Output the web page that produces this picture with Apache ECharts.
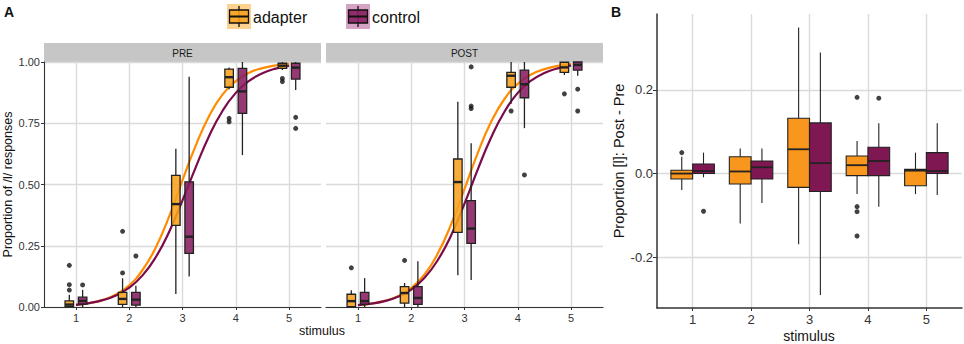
<!DOCTYPE html>
<html>
<head>
<meta charset="utf-8">
<script src="https://cdn.jsdelivr.net/npm/echarts@6/dist/echarts.min.js"></script>
<style>
  html, body { margin: 0; padding: 0; background: #fff; }
  #chart { width: 964px; height: 344px; }
</style>
</head>
<body>
<div id="chart"></div>
<script>
const stimuli = [1, 2, 3, 4, 5];
const yTicksA = [0, 0.25, 0.5, 0.75, 1];
const yTicksB = [-0.2, 0, 0.2];

// boxes: [low whisker, q1, median, q3, high whisker] for stimulus 1..5
const preAdapterBox = [
  [0, 0.002, 0.01, 0.025, 0.05],
  [0, 0.011, 0.033, 0.06, 0.117],
  [0.053, 0.333, 0.42, 0.537, 0.646],
  [0.889, 0.897, 0.938, 0.971, 0.978],
  [0.967, 0.974, 0.985, 0.995, 1.0]
];
const preControlBox = [
  [0, 0.012, 0.025, 0.04, 0.07],
  [0, 0.008, 0.03, 0.06, 0.087],
  [0.124, 0.219, 0.287, 0.511, 0.94],
  [0.62, 0.79, 0.88, 0.974, 1.0],
  [0.886, 0.93, 0.977, 0.995, 1.0]
];
const postAdapterBox = [
  [0, 0.001, 0.024, 0.052, 0.068],
  [0, 0.016, 0.057, 0.083, 0.098],
  [0.13, 0.305, 0.51, 0.604, 0.838],
  [0.83, 0.897, 0.944, 0.958, 1.0],
  [0.947, 0.958, 0.978, 0.999, 1.0]
];
const postControlBox = [
  [0, 0.011, 0.024, 0.06, 0.118],
  [0, 0.011, 0.037, 0.083, 0.187],
  [0.11, 0.26, 0.32, 0.434, 0.668],
  [0.73, 0.854, 0.909, 0.967, 1.0],
  [0.944, 0.967, 0.988, 1.0, 1.0]
];
const diffAdapterBox = [
  [-0.039, -0.013, 0.0, 0.008, 0.04],
  [-0.119, -0.025, 0.005, 0.04, 0.06],
  [-0.169, -0.033, 0.058, 0.132, 0.349],
  [-0.049, -0.005, 0.02, 0.042, 0.078],
  [-0.049, -0.029, 0.007, 0.01, 0.05]
];
const diffControlBox = [
  [-0.009, 0.0, 0.006, 0.023, 0.05],
  [-0.07, -0.013, 0.015, 0.03, 0.06],
  [-0.29, -0.043, 0.025, 0.121, 0.289],
  [-0.079, -0.005, 0.03, 0.063, 0.12],
  [-0.051, 0.0, 0.006, 0.05, 0.12]
];

// outliers: [stimulus, value]
const preAdapterOut = [[1, 0.17], [1, 0.091], [1, 0.069], [2, 0.309], [2, 0.139], [4, 0.77], [4, 0.756], [5, 0.933], [5, 0.92]];
const preControlOut = [[1, 0.09], [2, 0.208], [5, 0.774], [5, 0.729]];
const postAdapterOut = [[1, 0.16], [2, 0.19], [4, 0.8], [5, 0.87]];
const postControlOut = [[3, 0.98], [3, 0.82], [3, 0.81], [4, 0.539], [5, 0.889], [5, 0.8]];
const diffAdapterOut = [[1, 0.05], [4, 0.182], [4, -0.079], [4, -0.091], [4, -0.149]];
const diffControlOut = [[1, -0.09], [4, 0.18]];

// fitted curves
const curveX = [1, 1.25, 1.5, 1.75, 2, 2.25, 2.5, 2.75, 3, 3.25, 3.5, 3.75, 4, 4.25, 4.5, 4.75, 5];
const preAdapterCurve = [0.009, 0.016, 0.028, 0.051, 0.089, 0.151, 0.244, 0.37, 0.518, 0.66, 0.78, 0.867, 0.922, 0.956, 0.975, 0.986, 0.992];
const preControlCurve = [0.009, 0.016, 0.028, 0.047, 0.079, 0.129, 0.204, 0.307, 0.435, 0.571, 0.698, 0.8, 0.874, 0.923, 0.954, 0.973, 0.984];
const postAdapterCurve = [0.008, 0.014, 0.025, 0.044, 0.078, 0.133, 0.219, 0.338, 0.482, 0.629, 0.756, 0.849, 0.911, 0.949, 0.971, 0.984, 0.991];
const postControlCurve = [0.008, 0.014, 0.024, 0.042, 0.071, 0.119, 0.192, 0.293, 0.422, 0.562, 0.692, 0.797, 0.874, 0.924, 0.955, 0.974, 0.985];

const FONT = '"Liberation Sans", Arial, sans-serif';
const ORANGE = '#F8961D';
const PURPLE = '#7E1752';
const ORANGE_A = 'rgba(248,160,28,0.88)';
const PURPLE_A = 'rgba(135,28,96,0.88)';
const CURVE_O = '#FF8C00';
const CURVE_P = '#7A0C4A';

function boxData(stats, offset) {
  return stats.map((s, i) => [stimuli[i] + offset].concat(s));
}
function outData(points, offset) {
  return points.map((p) => [p[0] + offset, p[1]]);
}
function curveData(ys) {
  return curveX.map((x, i) => [x, ys[i]]);
}

function boxRender(widthUnits, fill, lineW, medW) {
  return function (params, api) {
    const x = api.value(0);
    const w = api.size([widthUnits, 0])[0];
    const pt = (d) => api.coord([x, api.value(d)]);
    const lo = pt(1), q1 = pt(2), md = pt(3), q3 = pt(4), hi = pt(5);
    const cx = lo[0];
    const stroke = '#222';
    return {
      type: 'group',
      children: [
        { type: 'line', shape: { x1: cx, y1: lo[1], x2: cx, y2: q1[1] }, style: { stroke: stroke, lineWidth: lineW } },
        { type: 'line', shape: { x1: cx, y1: q3[1], x2: cx, y2: hi[1] }, style: { stroke: stroke, lineWidth: lineW } },
        { type: 'rect', shape: { x: cx - w / 2, y: q3[1], width: w, height: q1[1] - q3[1] }, style: { fill: fill, stroke: stroke, lineWidth: lineW } },
        { type: 'line', shape: { x1: cx - w / 2, y1: md[1], x2: cx + w / 2, y2: md[1] }, style: { stroke: stroke, lineWidth: medW } }
      ]
    };
  };
}

function boxSeries(stats, offset, axis, widthUnits, fill, lineW, medW) {
  return {
    type: 'custom',
    xAxisIndex: axis, yAxisIndex: axis,
    renderItem: boxRender(widthUnits, fill, lineW, medW),
    encode: { x: 0, y: [1, 2, 3, 4, 5] },
    data: boxData(stats, offset),
    z: 3,
    silent: true
  };
}
function outSeries(points, offset, axis, size) {
  return {
    type: 'scatter', xAxisIndex: axis, yAxisIndex: axis,
    data: outData(points, offset),
    symbolSize: size,
    itemStyle: { color: '#111' },
    z: 4, silent: true
  };
}
function curveSeries(ys, axis, color) {
  return {
    type: 'line', xAxisIndex: axis, yAxisIndex: axis,
    data: curveData(ys), smooth: true, showSymbol: false,
    lineStyle: { color: color, width: 2.2 },
    z: 2, silent: true
  };
}

const gridLine = { show: true, lineStyle: { color: '#dadada', width: 1.4 } };

function xAxisA(idx) {
  return {
    type: 'value', gridIndex: idx, min: 0.4, max: 5.6,
    axisLine: { show: true, onZero: false, lineStyle: { color: '#333', width: 1.1 } },
    axisTick: { show: true, length: 3, customValues: stimuli, lineStyle: { color: '#333' } },
    axisLabel: { customValues: stimuli, fontSize: 11, color: '#333', margin: 5, fontFamily: FONT, formatter: (v) => String(v) },
    splitLine: gridLine
  };
}

const option = {
  animation: false,
  textStyle: { fontFamily: FONT },
  grid: [
    { left: 44, top: 62, width: 277, height: 245 },
    { left: 326, top: 62, width: 277, height: 245 },
    { left: 657, top: 14, width: 305, height: 294 }
  ],
  xAxis: [
    xAxisA(0),
    xAxisA(1),
    {
      type: 'value', gridIndex: 2, min: 0.39, max: 5.61,
      axisLine: { show: true, onZero: false, lineStyle: { color: '#333', width: 1.5 } },
      axisTick: { show: true, length: 3, customValues: stimuli, lineStyle: { color: '#333' } },
      axisLabel: { customValues: stimuli, fontSize: 13, color: '#333', margin: 5, fontFamily: FONT, formatter: (v) => String(v) },
      splitLine: gridLine
    }
  ],
  yAxis: [
    {
      type: 'value', gridIndex: 0, min: 0, max: 1, interval: 0.25,
      name: 'Proportion of /l/ responses', nameLocation: 'middle', nameGap: 30,
      nameTextStyle: { fontSize: 12.5, color: '#111', fontFamily: FONT },
      axisLine: { show: true, onZero: false, lineStyle: { color: '#333', width: 1.1 } },
      axisTick: { show: true, length: 3, lineStyle: { color: '#333' } },
      axisLabel: { fontSize: 11, color: '#333', margin: 4, fontFamily: FONT, formatter: (v) => v.toFixed(2) },
      splitLine: gridLine
    },
    {
      type: 'value', gridIndex: 1, min: 0, max: 1, interval: 0.25,
      axisLine: { show: false }, axisTick: { show: false }, axisLabel: { show: false },
      splitLine: gridLine
    },
    {
      type: 'value', gridIndex: 2, min: -0.321, max: 0.381,
      name: 'Proportion [l]: Post - Pre', nameLocation: 'middle', nameGap: 25,
      nameTextStyle: { fontSize: 14.5, color: '#111', fontFamily: FONT },
      axisLine: { show: true, onZero: false, lineStyle: { color: '#333', width: 1.5 } },
      axisTick: { show: true, length: 4, customValues: yTicksB, lineStyle: { color: '#333' } },
      axisLabel: { customValues: yTicksB, fontSize: 13, color: '#333', margin: 4, fontFamily: FONT, formatter: (v) => v.toFixed(1) },
      splitLine: gridLine
    }
  ],
  series: [
    curveSeries(preAdapterCurve, 0, CURVE_O),
    curveSeries(preControlCurve, 0, CURVE_P),
    curveSeries(postAdapterCurve, 1, CURVE_O),
    curveSeries(postControlCurve, 1, CURVE_P),
    boxSeries(preAdapterBox, -0.125, 0, 0.16, ORANGE_A, 1.3, 2.4),
    boxSeries(preControlBox, 0.125, 0, 0.16, PURPLE_A, 1.3, 2.4),
    boxSeries(postAdapterBox, -0.125, 1, 0.16, ORANGE_A, 1.3, 2.4),
    boxSeries(postControlBox, 0.125, 1, 0.16, PURPLE_A, 1.3, 2.4),
    boxSeries(diffAdapterBox, -0.186, 2, 0.372, ORANGE, 1.1, 1.8),
    boxSeries(diffControlBox, 0.186, 2, 0.372, PURPLE, 1.1, 1.8),
    outSeries(preAdapterOut, -0.125, 0, 5),
    outSeries(preControlOut, 0.125, 0, 5),
    outSeries(postAdapterOut, -0.125, 1, 5),
    outSeries(postControlOut, 0.125, 1, 5),
    outSeries(diffAdapterOut, -0.186, 2, 5),
    outSeries(diffControlOut, 0.186, 2, 5)
  ],
  graphic: [
    { type: 'rect', left: 44, top: 43, shape: { width: 277, height: 19 }, style: { fill: '#c6c6c6' }, silent: true },
    { type: 'rect', left: 326, top: 43, shape: { width: 277, height: 19 }, style: { fill: '#c6c6c6' }, silent: true },
    { type: 'text', x: 182.5, y: 53, style: { text: 'PRE', font: '10px ' + FONT, fill: '#1a1a1a', textAlign: 'center', textVerticalAlign: 'middle' } },
    { type: 'text', x: 464.5, y: 53, style: { text: 'POST', font: '10px ' + FONT, fill: '#1a1a1a', textAlign: 'center', textVerticalAlign: 'middle' } },
    { type: 'text', x: 4, y: 5, style: { text: 'A', font: 'bold 14px ' + FONT, fill: '#111' } },
    { type: 'text', x: 611, y: 5, style: { text: 'B', font: 'bold 14px ' + FONT, fill: '#111' } },
    { type: 'text', x: 322, y: 331, style: { text: 'stimulus', font: '12.5px ' + FONT, fill: '#111', textAlign: 'center', textVerticalAlign: 'middle' } },
    { type: 'text', x: 809, y: 336, style: { text: 'stimulus', font: '14px ' + FONT, fill: '#111', textAlign: 'center', textVerticalAlign: 'middle' } },
    // legend keys
    { type: 'rect', shape: { x: 227, y: 4, width: 24, height: 25 }, style: { fill: '#FCD28E' } },
    { type: 'line', shape: { x1: 239, y1: 6, x2: 239, y2: 27 }, style: { stroke: '#111', lineWidth: 1.3 } },
    { type: 'rect', shape: { x: 229.5, y: 10, width: 19, height: 13 }, style: { fill: ORANGE_A, stroke: '#111', lineWidth: 1.3 } },
    { type: 'line', shape: { x1: 229.5, y1: 16.5, x2: 248.5, y2: 16.5 }, style: { stroke: '#111', lineWidth: 2 } },
    { type: 'text', x: 253, y: 17, style: { text: 'adapter', font: '16px ' + FONT, fill: '#111', textVerticalAlign: 'middle' } },
    { type: 'rect', shape: { x: 346, y: 4, width: 24, height: 25 }, style: { fill: '#D7A3C4' } },
    { type: 'line', shape: { x1: 358, y1: 6, x2: 358, y2: 27 }, style: { stroke: '#111', lineWidth: 1.3 } },
    { type: 'rect', shape: { x: 348.5, y: 10, width: 19, height: 13 }, style: { fill: PURPLE_A, stroke: '#111', lineWidth: 1.3 } },
    { type: 'line', shape: { x1: 348.5, y1: 16.5, x2: 367.5, y2: 16.5 }, style: { stroke: '#111', lineWidth: 2 } },
    { type: 'text', x: 372, y: 17, style: { text: 'control', font: '16px ' + FONT, fill: '#111', textVerticalAlign: 'middle' } }
  ]
};

const myChart = echarts.init(document.getElementById('chart'), null, { renderer: 'svg' });
myChart.setOption(option);
</script>
</body>
</html>
